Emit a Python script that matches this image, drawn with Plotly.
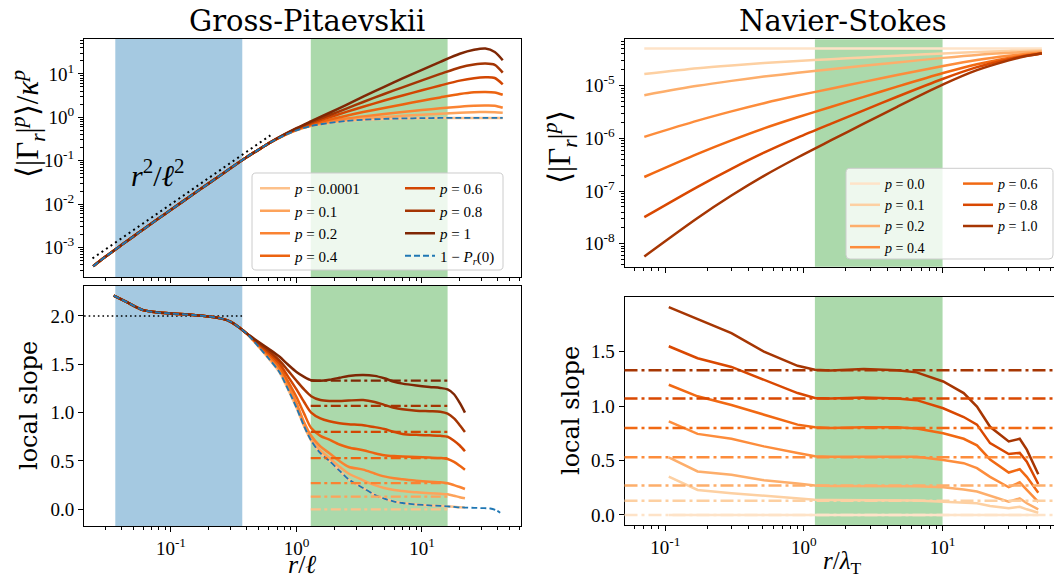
import plotly.graph_objects as go

W, H = 1054, 581

# ---------------- Gross-Pitaevskii ----------------
gp_labels = ["0.0001", "0.1", "0.2", "0.4", "0.6", "0.8", "1"]
gp_colors = ["#fdc18b", "#fda35b", "#fa8332", "#ec6310", "#d24602", "#a43503", "#7f2704"]

# normalised moments  <|Gamma_r|^p>/kappa^p
gp_r_small = [0.024, 0.03, 0.04, 0.05, 0.06, 0.08, 0.1, 0.15, 0.2, 0.3, 0.4, 0.5]
gp_m_small = [3.7e-4, 6.1e-4, 1.12e-3, 1.78e-3, 2.6e-3, 4.7e-3, 7.4e-3, 0.0168, 0.030, 0.068, 0.12, 0.18]
gp_r = [0.6, 0.8, 1.0, 1.3, 1.8, 2.5, 3.4, 5, 7, 10, 14, 20, 26, 32, 38, 44]
gp_m_p0001 = [0.251, 0.385, 0.502, 0.628, 0.740, 0.822, 0.875, 0.916, 0.938, 0.953, 0.962, 0.966, 0.968, 0.969, 0.969, 0.966]
gp_m_p01 = [0.251, 0.385, 0.506, 0.637, 0.762, 0.863, 0.942, 1.02, 1.08, 1.15, 1.21, 1.28, 1.31, 1.32, 1.31, 1.27]
gp_m_p02 = [0.251, 0.387, 0.512, 0.652, 0.796, 0.933, 1.05, 1.19, 1.32, 1.47, 1.61, 1.76, 1.85, 1.87, 1.85, 1.66]
gp_m_p04 = [0.251, 0.390, 0.521, 0.678, 0.873, 1.09, 1.32, 1.64, 1.98, 2.40, 2.87, 3.43, 3.76, 3.84, 3.74, 3.31]
gp_m_p06 = [0.251, 0.394, 0.537, 0.721, 0.989, 1.33, 1.75, 2.43, 3.18, 4.18, 5.41, 7.0, 7.98, 8.32, 8.04, 5.75]
gp_m_p08 = [0.251, 0.398, 0.550, 0.760, 1.10, 1.59, 2.25, 3.44, 4.90, 7.08, 9.98, 14.1, 16.4, 17.3, 16.2, 10.7]
gp_m_p1 = [0.251, 0.402, 0.562, 0.805, 1.24, 1.94, 2.98, 5.05, 7.87, 12.4, 19.0, 29.1, 35.9, 38.5, 32.0, 20.7]
gp_m_dashed = [0.251, 0.384, 0.500, 0.626, 0.738, 0.822, 0.876, 0.918, 0.941, 0.956, 0.965, 0.970, 0.972, 0.973, 0.973, 0.972]
gp_moments = [gp_m_p0001, gp_m_p01, gp_m_p02, gp_m_p04, gp_m_p06, gp_m_p08, gp_m_p1]

# r^2 guide
guide_r = [0.0237, 0.62]
guide_m = [5.6e-4, 0.384]

# local slopes
gp_rs_small = [0.035, 0.045, 0.06, 0.08, 0.1, 0.15, 0.2, 0.25, 0.3, 0.35, 0.4]
gp_s_small = [2.21, 2.14, 2.06, 2.035, 2.025, 2.01, 1.995, 1.975, 1.94, 1.88, 1.82]
gp_rs = [0.5, 0.6, 0.73, 0.85, 1.0, 1.15, 1.31, 1.55, 1.83, 2.2, 2.6, 3.4, 4.2, 5.0, 6.0, 7.0, 9.0, 11.5, 14, 16, 18, 20, 22]
gp_s_p0001 = [1.68, 1.56, 1.42, 1.25, 1.05, 0.86, 0.71, 0.58, 0.50, 0.40, 0.31, 0.22, 0.15, 0.11, 0.08, 0.065, 0.05, 0.04, 0.035, 0.03, 0.025, 0.02, 0.018]
gp_s_p01 = [1.69, 1.57, 1.44, 1.27, 1.08, 0.87, 0.73, 0.61, 0.53, 0.44, 0.37, 0.30, 0.25, 0.22, 0.20, 0.19, 0.175, 0.165, 0.16, 0.155, 0.14, 0.125, 0.114]
gp_s_p02 = [1.69, 1.58, 1.45, 1.29, 1.10, 0.90, 0.76, 0.65, 0.58, 0.50, 0.44, 0.41, 0.37, 0.34, 0.32, 0.31, 0.295, 0.285, 0.28, 0.27, 0.25, 0.23, 0.21]
gp_s_p04 = [1.70, 1.60, 1.48, 1.33, 1.16, 0.99, 0.84, 0.76, 0.72, 0.67, 0.64, 0.61, 0.58, 0.56, 0.55, 0.545, 0.54, 0.535, 0.53, 0.52, 0.49, 0.45, 0.41]
gp_s_p06 = [1.71, 1.62, 1.51, 1.38, 1.24, 1.11, 1.00, 0.94, 0.91, 0.89, 0.88, 0.87, 0.85, 0.83, 0.80, 0.78, 0.77, 0.765, 0.76, 0.75, 0.71, 0.66, 0.60]
gp_s_p08 = [1.72, 1.64, 1.54, 1.44, 1.33, 1.24, 1.17, 1.13, 1.12, 1.12, 1.125, 1.13, 1.11, 1.08, 1.05, 1.035, 1.02, 1.015, 1.01, 0.99, 0.94, 0.87, 0.80]
gp_s_p1 = [1.73, 1.66, 1.58, 1.50, 1.42, 1.37, 1.335, 1.33, 1.34, 1.36, 1.38, 1.39, 1.38, 1.355, 1.32, 1.30, 1.28, 1.265, 1.255, 1.24, 1.19, 1.10, 1.0]
gp_slopes = [gp_s_p0001, gp_s_p01, gp_s_p02, gp_s_p04, gp_s_p06, gp_s_p08, gp_s_p1]
gp_rs_tail = [26, 30, 35, 39, 42]
gp_s_dashed_tail = [0.015, 0.012, 0.008, -0.01, -0.035]

gp_ref_slopes = [0.0, 0.13, 0.27, 0.53, 0.80, 1.07, 1.33]
gp_blue_range = [0.036, 0.37]
gp_green_range = [1.3, 16]
flat_guide_r = [0.0203, 0.37]
flat_guide_s = [2.0, 2.0]

# ---------------- Navier-Stokes ----------------
ns_labels = ["0.0", "0.1", "0.2", "0.4", "0.6", "0.8", "1.0"]
ns_colors = ["#fee3c8", "#fdd0a2", "#fdae6b", "#fd8d3c", "#f16913", "#d94801", "#a63603"]
ns_r = [0.0706, 0.171, 0.3, 0.515, 0.9, 1.56, 2.7, 4.7, 10.1, 17.7, 30, 36, 52]
ns_m_p0 = [5.1e-5, 5.1e-5, 5.1e-5, 5.1e-5, 5.1e-5, 5.1e-5, 5.1e-5, 5.1e-5, 5.1e-5, 5.1e-5, 5.1e-5, 5.1e-5, 5.1e-5]
ns_m_p01 = [1.66e-5, 2.14e-5, 2.42e-5, 2.68e-5, 2.94e-5, 3.18e-5, 3.44e-5, 3.71e-5, 4.09e-5, 4.37e-5, 4.56e-5, 4.62e-5, 4.71e-5]
ns_m_p02 = [6.61e-6, 9.93e-6, 1.233e-5, 1.486e-5, 1.76e-5, 2.06e-5, 2.38e-5, 2.76e-5, 3.37e-5, 3.84e-5, 4.19e-5, 4.30e-5, 4.46e-5]
ns_m_p04 = [1.07e-6, 2.17e-6, 3.25e-6, 4.65e-6, 6.49e-6, 8.77e-6, 1.18e-5, 1.59e-5, 2.37e-5, 3.08e-5, 3.71e-5, 3.90e-5, 4.20e-5]
ns_m_p06 = [1.85e-7, 5.07e-7, 9.14e-7, 1.545e-6, 2.51e-6, 3.94e-6, 6.14e-6, 9.59e-6, 1.74e-5, 2.56e-5, 3.36e-5, 3.63e-5, 4.06e-5]
ns_m_p08 = [3.20e-8, 1.205e-7, 2.65e-7, 5.36e-7, 1.035e-6, 1.89e-6, 3.40e-6, 6.17e-6, 1.355e-5, 2.25e-5, 3.18e-5, 3.52e-5, 4.08e-5]
ns_m_p1 = [5.75e-9, 3.09e-8, 8.22e-8, 1.945e-7, 4.34e-7, 9.12e-7, 1.897e-6, 3.97e-6, 1.057e-5, 1.97e-5, 3.02e-5, 3.43e-5, 4.12e-5]
ns_moments = [ns_m_p0, ns_m_p01, ns_m_p02, ns_m_p04, ns_m_p06, ns_m_p08, ns_m_p1]

ns_rs = [0.106, 0.171, 0.3, 0.515, 0.9, 1.2, 1.56, 2.7, 4.7, 6.5, 10.1, 14.2, 17.7, 22, 30, 36, 40.5, 49]
ns_s_p0 = [0.0, 0.0, 0.0, 0.0, 0.0, 0.0, 0.0, 0.0, 0.0, 0.0, 0.0, 0.0, 0.0, 0.0, 0.0, 0.0, 0.0, 0.0]
ns_s_p01 = [0.353, 0.23, 0.20, 0.175, 0.154, 0.14, 0.138, 0.136, 0.135, 0.133, 0.122, 0.115, 0.108, 0.083, 0.062, 0.076, 0.052, 0.021]
ns_s_p02 = [0.53, 0.40, 0.37, 0.32, 0.29, 0.27, 0.267, 0.267, 0.267, 0.265, 0.255, 0.235, 0.215, 0.175, 0.122, 0.153, 0.108, 0.052]
ns_s_p04 = [0.86, 0.745, 0.70, 0.63, 0.57, 0.54, 0.536, 0.536, 0.54, 0.535, 0.506, 0.476, 0.43, 0.35, 0.255, 0.30, 0.23, 0.12]
ns_s_p06 = [1.196, 1.09, 1.01, 0.92, 0.83, 0.805, 0.80, 0.807, 0.805, 0.795, 0.75, 0.70, 0.64, 0.51, 0.39, 0.42, 0.35, 0.205]
ns_s_p08 = [1.55, 1.44, 1.36, 1.24, 1.12, 1.075, 1.07, 1.08, 1.07, 1.055, 0.98, 0.90, 0.83, 0.66, 0.56, 0.57, 0.49, 0.285]
ns_s_p1 = [1.91, 1.80, 1.67, 1.50, 1.37, 1.335, 1.328, 1.34, 1.33, 1.31, 1.226, 1.12, 0.996, 0.81, 0.675, 0.70, 0.60, 0.375]
ns_slopes = [ns_s_p0, ns_s_p01, ns_s_p02, ns_s_p04, ns_s_p06, ns_s_p08, ns_s_p1]
ns_ref_slopes = [0.0, 0.13, 0.27, 0.53, 0.80, 1.07, 1.33]
ns_green_range = [1.2, 10.0]

# ---------------- figure ----------------
SERIF = "DejaVu Serif"
MATH = "Liberation Serif"
BLUE = "#1f77b4"
fig = go.Figure()


def line(x, y, xa, ya, color, width=2.5, dash=None, shape="spline", name=None, legend=None, show=False):
    fig.add_trace(go.Scatter(
        x=x, y=y, xaxis=xa, yaxis=ya, mode="lines",
        line=dict(color=color, width=width, dash=dash, shape=shape, smoothing=0.8 if shape == "spline" else None),
        name=name, legend=legend, showlegend=show, hoverinfo="skip"))


# shaded bands
def band(xref, yref, rng, color):
    fig.add_shape(type="rect", xref=xref, yref=yref + " domain", x0=rng[0], x1=rng[1], y0=0, y1=1,
                  fillcolor=color, line_width=0, layer="below")


for xa, ya in (("x", "y"), ("x2", "y2")):
    band(xa, ya, gp_blue_range, "rgba(31,119,180,0.4)")
    band(xa, ya, gp_green_range, "rgba(44,160,44,0.4)")
for xa, ya in (("x3", "y3"), ("x4", "y4")):
    band(xa, ya, ns_green_range, "rgba(44,160,44,0.4)")

# GP top panel
line(guide_r, guide_m, "x2", "y2", "black", width=2, dash="2px,3.5px", shape="linear")
for i in range(7):
    line(gp_r_small + gp_r, gp_m_small + gp_moments[i], "x2", "y2", gp_colors[i],
         name="<i>p</i> = " + gp_labels[i], legend="legend" if i < 4 else "legend2", show=True)
line(gp_r_small + gp_r, gp_m_small + gp_m_dashed, "x2", "y2", BLUE, width=1.8, dash="6px,3px",
     name="1 − <i>P<sub>r</sub></i>(0)", legend="legend2", show=True)

# GP bottom panel
line(flat_guide_r, flat_guide_s, "x", "y", "black", width=1.6, dash="1.6px,3px", shape="linear")
for i in range(7):
    line(gp_rs_small + gp_rs, gp_s_small + gp_slopes[i], "x", "y", gp_colors[i])
line(gp_rs_small + gp_rs + gp_rs_tail, gp_s_small + gp_s_p0001 + gp_s_dashed_tail, "x", "y", BLUE,
     width=1.8, dash="6px,3px")
for i in range(7):
    line(gp_green_range, [gp_ref_slopes[i], gp_ref_slopes[i]], "x", "y", gp_colors[i], width=2.2,
         dash="10px,3.5px,3px,3.5px", shape="linear")

# NS top panel
for i in range(7):
    line(ns_r, ns_moments[i], "x4", "y4", ns_colors[i],
         name="<i>p</i> = " + ns_labels[i], legend="legend3" if i < 4 else "legend4", show=True)

# NS bottom panel
for i in range(7):
    fig.add_shape(type="line", xref="x3 domain", yref="y3", x0=0, x1=1,
                  y0=ns_ref_slopes[i], y1=ns_ref_slopes[i],
                  line=dict(color=ns_colors[i], width=2.5, dash="13px,4px,3px,4px"), layer="above")
for i in range(7):
    line(ns_rs, ns_slopes[i], "x3", "y3", ns_colors[i], shape="linear")

# ---------------- axes ----------------
def dx(a, b):
    return [a / W, b / W]


def dy(top, bottom):
    return [1 - bottom / H, 1 - top / H]


tickfont = dict(family=MATH, size=19, color="black")
base = dict(showline=True, linecolor="black", linewidth=1, ticks="outside", ticklen=5, tickwidth=1,
            tickcolor="black", showgrid=False, zeroline=False, tickfont=tickfont)


def minor_log(k0, k1):
    return dict(tickmode="array", tickvals=[m * 10.0 ** k for k in range(k0, k1) for m in range(2, 10)],
                ticks="outside", ticklen=3, tickwidth=1, tickcolor="black", showgrid=False)


def pow_ticks(k0, k1):
    vals = [10.0 ** k for k in range(k0, k1 + 1)]
    txt = ["10<sup>%d</sup>" % k for k in range(k0, k1 + 1)]
    return dict(tickmode="array", tickvals=vals, ticktext=txt)


xl = dict(base, type="log", range=[-1.693, 1.789], mirror=True, minor=minor_log(-2, 2), **pow_ticks(-1, 1))
xr = dict(base, type="log", range=[-1.294, 1.8036], mirror=True, minor=minor_log(-2, 2), **pow_ticks(-1, 1))

fig.update_layout(
    width=W, height=H, margin=dict(l=0, r=0, t=0, b=0),
    plot_bgcolor="white", paper_bgcolor="white",
    font=dict(family=MATH, color="black"),
    xaxis=dict(xl, domain=dx(84, 521), anchor="y"),
    yaxis=dict(base, domain=dy(286, 526), anchor="x", range=[-0.173, 2.31], mirror=True,
               tickmode="array", tickvals=[0, 0.5, 1, 1.5, 2], ticktext=["0.0", "0.5", "1.0", "1.5", "2.0"]),
    xaxis2=dict(xl, domain=dx(84, 521), anchor="y2", showticklabels=False),
    yaxis2=dict(base, type="log", domain=dy(39, 277), anchor="x2", range=[-3.68, 1.804], mirror=True,
                minor=minor_log(-4, 2), **pow_ticks(-3, 1)),
    xaxis3=dict(xr, domain=dx(624.5, W), anchor="y3"),
    yaxis3=dict(base, domain=dy(296.7, 525), anchor="x3", range=[-0.092, 2.005],
                tickmode="array", tickvals=[0, 0.5, 1, 1.5], ticktext=["0.0", "0.5", "1.0", "1.5"]),
    xaxis4=dict(xr, domain=dx(624.5, W), anchor="y4", showticklabels=False),
    yaxis4=dict(base, type="log", domain=dy(39.3, 266.7), anchor="x4", range=[-8.435, -4.12],
                minor=minor_log(-9, -4), **pow_ticks(-8, -5)),
    legend=dict(x=255 / W, y=1 - 172 / H, xanchor="left", yanchor="top", bgcolor="rgba(0,0,0,0)",
                font=dict(family=MATH, size=15, color="black"), tracegroupgap=0),
    legend2=dict(x=400 / W, y=1 - 172 / H, xanchor="left", yanchor="top", bgcolor="rgba(0,0,0,0)",
                 font=dict(family=MATH, size=15, color="black"), tracegroupgap=0),
    legend3=dict(x=845 / W, y=1 - 168 / H, xanchor="left", yanchor="top", bgcolor="rgba(0,0,0,0)",
                 font=dict(family=MATH, size=14, color="black"), tracegroupgap=0),
    legend4=dict(x=958 / W, y=1 - 168 / H, xanchor="left", yanchor="top", bgcolor="rgba(0,0,0,0)",
                 font=dict(family=MATH, size=14, color="black"), tracegroupgap=0),
)


# legend frames (rounded, translucent white)
def rrect(x0, y0, x1, y1, r=4):
    def P(x, y):
        return "%.5f,%.5f" % (x / W, 1 - y / H)
    return ("M" + P(x0 + r, y0) + " L" + P(x1 - r, y0) + " Q" + P(x1, y0) + " " + P(x1, y0 + r) +
            " L" + P(x1, y1 - r) + " Q" + P(x1, y1) + " " + P(x1 - r, y1) +
            " L" + P(x0 + r, y1) + " Q" + P(x0, y1) + " " + P(x0, y1 - r) +
            " L" + P(x0, y0 + r) + " Q" + P(x0, y0) + " " + P(x0 + r, y0) + " Z")


for box in ((252, 173, 503, 270), (846, 168.3, 1053, 259)):
    fig.add_shape(type="path", xref="paper", yref="paper", path=rrect(*box),
                  fillcolor="rgba(255,255,255,0.8)", line=dict(color="#cccccc", width=1), layer="above")


def note(text, x, y, size, family=MATH, angle=0):
    fig.add_annotation(text=text, x=x / W, y=1 - y / H, xref="paper", yref="paper", showarrow=False,
                       textangle=angle, font=dict(family=family, size=size, color="black"),
                       xanchor="center", yanchor="middle")


note("Gross-Pitaevskii", 307, 21, 29, SERIF)
note("Navier-Stokes", 843, 21, 29, SERIF)
note("⟨|Γ<sub><i>r</i></sub>|<sup><i>p</i></sup>⟩/<i>κ</i><sup><i>p</i></sup>", 28, 124, 31, MATH, -90)
note("⟨|Γ<sub><i>r</i></sub>|<sup><i>p</i></sup>⟩", 560, 147, 31, MATH, -90)
note("local slope", 29, 406, 24, SERIF, -90)
note("local slope", 571, 411, 24, SERIF, -90)
note("<i>r</i>/<i>ℓ</i>", 302, 564, 26, MATH)
note("<i>r</i>/<i>λ</i><sub>T</sub>", 842, 562, 25, MATH)
note("<i>r</i><sup>2</sup>/<i>ℓ</i><sup>2</sup>", 158, 173, 30, MATH)

fig.write_html("out.html", config={"displayModeBar": False},
               post_script="document.body.style.margin='0px';document.body.style.overflow='hidden';")
